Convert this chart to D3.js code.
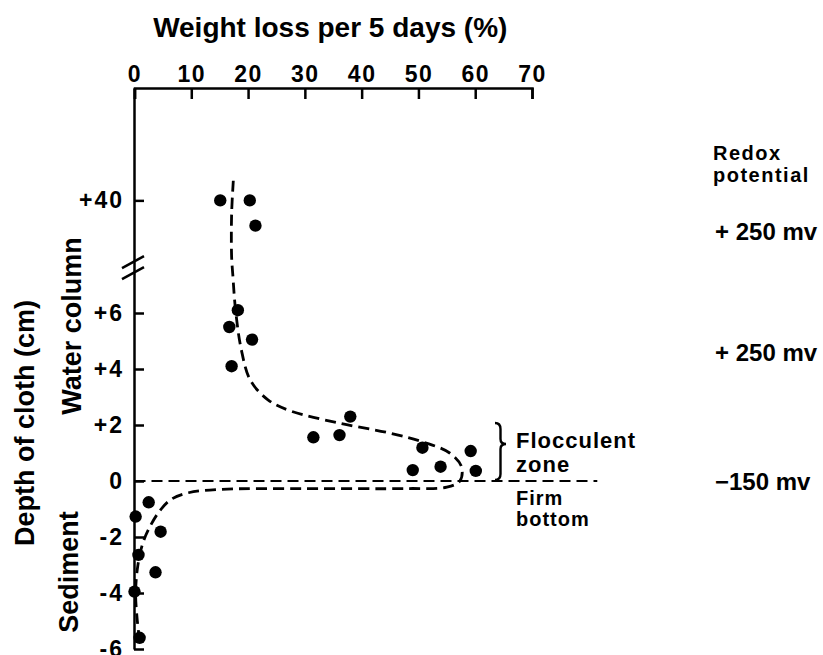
<!DOCTYPE html>
<html>
<head>
<meta charset="utf-8">
<script src="https://cdn.jsdelivr.net/npm/d3@7"></script>
<style>
  body { margin: 0; background: #fff; }
  svg text { font-family: "Liberation Sans", Arial, sans-serif; font-weight: bold; fill: #000; }
</style>
</head>
<body>
<svg id="chart" width="823" height="655"></svg>
<script>
// Axis ticks
const weightTicks = [0, 10, 20, 30, 40, 50, 60, 70];
const depthTicks = [-6, -4, -2, 0, 2, 4, 6, 40];
const depthTickLabels = ["-6", "-4", "-2", "0", "+2", "+4", "+6", "+40"];

// Measured weight loss (%) against depth of cloth (cm)
const obsWeight = [15.1, 20.3, 21.3, 18.2, 16.7, 20.7, 17.1, 31.5, 36.1, 38.0, 50.7, 49.0, 53.9, 59.2, 60.1, 2.5, 0.2, 4.6, 0.7, 3.7, 0.0, 0.9];
const obsDepth  = [40.0, 40.0, 39.1, 6.1, 5.5, 5.05, 4.1, 1.56, 1.64, 2.3, 1.19, 0.39, 0.51, 1.07, 0.36, -0.76, -1.27, -1.81, -2.64, -3.26, -3.95, -5.6];

// Hand-fitted trend through the profile
const fitWeight = [17.4, 17.1, 17.1, 17.3, 17.8, 18.8, 20.4, 23.5, 27.5, 36.0, 45.0, 51.0, 55.5, 57.6, 57.3, 55.0, 48.0, 30.0, 15.0, 9.5, 6.5, 4.5, 2.8, 1.5, 0.6, 0.2, 0.5, 0.9];
const fitDepth  = [40.7, 39.5, 38.0, 7.4, 6.1, 4.7, 3.6, 2.9, 2.5, 2.07, 1.71, 1.38, 1.0, 0.5, 0.0, -0.22, -0.27, -0.27, -0.3, -0.42, -0.65, -1.05, -1.6, -2.2, -3.0, -4.0, -5.0, -5.7];

// Redox potential beside each zone
const redoxLabels = ["+ 250 mv", "+ 250 mv", "\u2212150 mv"];
const redoxDepth = [38.9, 4.6, 0];

const svg = d3.select("#chart");

const x = d3.scaleLinear().domain([0, 70]).range([134.5, 532]);
// Broken depth scale: sediment/water up to ~7.6 cm, then jump to the +40 cm level
const y = d3.scaleLinear()
  .domain([-6, 7.6, 37.6, 44])
  .range([649, 268.2, 267.8, 88]);

// Top axis
const xAxis = d3.axisTop(x)
  .tickValues(weightTicks)
  .tickSizeInner(-11)
  .tickSizeOuter(-11)
  .tickPadding(6);
const gx = svg.append("g").attr("transform", "translate(0,88)").call(xAxis);
gx.select(".domain").attr("stroke", "#000").attr("stroke-width", 2.5);
gx.selectAll(".tick line").attr("stroke", "#000").attr("stroke-width", 2.5);
gx.selectAll(".tick text").attr("font-size", 23).attr("letter-spacing", 1.5);

// Left axis
const yAxis = d3.axisLeft(y)
  .tickValues(depthTicks)
  .tickFormat((d, i) => depthTickLabels[i])
  .tickSizeInner(-10)
  .tickSizeOuter(0)
  .tickPadding(12);
const gy = svg.append("g").attr("transform", "translate(134,0)").call(yAxis);
gy.select(".domain").attr("stroke", "#000").attr("stroke-width", 2.5);
gy.selectAll(".tick line").attr("stroke", "#000").attr("stroke-width", 2.5);
gy.selectAll(".tick text").attr("font-size", 23).attr("letter-spacing", 2).attr("dx", 2);

// Axis break marks
const yb = y(7.6);
[-6, 5].forEach(off => {
  svg.append("line")
    .attr("x1", 122).attr("y1", yb + off + 6)
    .attr("x2", 144).attr("y2", yb + off - 6)
    .attr("stroke", "#000").attr("stroke-width", 2.5);
});

// Sediment surface
svg.append("line")
  .attr("x1", x(0)).attr("x2", x(81.5))
  .attr("y1", y(0)).attr("y2", y(0))
  .attr("stroke", "#000").attr("stroke-width", 2.2)
  .attr("stroke-dasharray", "11,6");

// Trend curve
const fit = fitWeight.map((w, i) => [x(w), y(fitDepth[i])]);
svg.append("path")
  .attr("d", d3.line().curve(d3.curveCatmullRom.alpha(0.5))(fit))
  .attr("fill", "none")
  .attr("stroke", "#000")
  .attr("stroke-width", 2.8)
  .attr("stroke-dasharray", "11,6");

// Observations
svg.append("g").selectAll("circle")
  .data(obsWeight.map((w, i) => [w, obsDepth[i]]))
  .join("circle")
  .attr("cx", d => x(d[0]))
  .attr("cy", d => y(d[1]))
  .attr("r", 6.2)
  .attr("fill", "#000");

// Titles
svg.append("text")
  .attr("x", (x(0) + x(70)) / 2 - 3).attr("y", 37)
  .attr("text-anchor", "middle").attr("font-size", 28)
  .text("Weight loss per 5 days (%)");

svg.append("text")
  .attr("transform", "translate(34,423) rotate(-90)")
  .attr("text-anchor", "middle").attr("font-size", 27)
  .text("Depth of cloth (cm)");

svg.append("text")
  .attr("transform", "translate(81,326) rotate(-90)")
  .attr("text-anchor", "middle").attr("font-size", 27)
  .text("Water column");

svg.append("text")
  .attr("transform", "translate(78,572) rotate(-90)")
  .attr("text-anchor", "middle").attr("font-size", 27)
  .text("Sediment");

// Zone annotations
const bx = 495, by0 = 423, by1 = 480, bm = 444, bw = 11;
svg.append("path")
  .attr("d", `M${bx},${by0} Q${bx + bw / 2},${by0} ${bx + bw / 2},${by0 + 6}
              L${bx + bw / 2},${bm - 5} Q${bx + bw / 2},${bm} ${bx + bw},${bm}
              Q${bx + bw / 2},${bm} ${bx + bw / 2},${bm + 5}
              L${bx + bw / 2},${by1 - 6} Q${bx + bw / 2},${by1} ${bx},${by1}`)
  .attr("fill", "none").attr("stroke", "#000").attr("stroke-width", 2.4);

const note = (txt, px, py, size) => svg.append("text")
  .attr("x", px).attr("y", py).attr("font-size", size).attr("letter-spacing", 1)
  .text(txt);
note("Flocculent", 516, 448, 22);
note("zone", 516, 472, 22);
note("Firm", 516, 505, 20);
note("bottom", 516, 526, 20);

note("Redox", 713, 160, 20).attr("letter-spacing", 1.5);
note("potential", 713, 182, 20).attr("letter-spacing", 1.5);

svg.append("g").selectAll("text.redox")
  .data(redoxLabels)
  .join("text")
  .attr("class", "redox")
  .attr("x", 715)
  .attr("y", (d, i) => y(redoxDepth[i]))
  .attr("dy", "0.36em")
  .attr("font-size", 24)
  .text(d => d);
</script>
</body>
</html>
